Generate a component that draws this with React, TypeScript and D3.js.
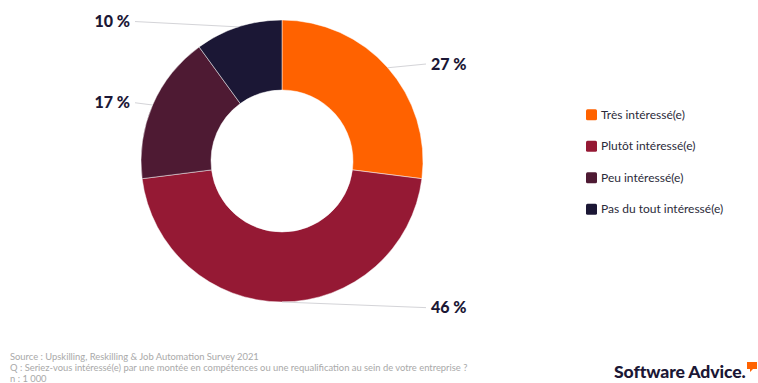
import React from "react";
import * as d3 from "d3";

const categories = ["Très intéressé(e)", "Plutôt intéressé(e)", "Peu intéressé(e)", "Pas du tout intéressé(e)"];
const values = [27, 46, 17, 10];
const colors = ["#FF6200", "#951934", "#4E1A33", "#1B1735"];
const sourceLines = [
  "Source : Upskilling, Reskilling & Job Automation Survey 2021",
  "Q : Seriez-vous intéressé(e) par une montée en compétences ou une requalification au sein de votre entreprise ?",
  "n : 1 000",
];

const W = 758;
const H = 383;
const cx = 282;
const cy = 161;
const outerR = 141;
const innerR = 71;

export default function App() {
  const pie = d3.pie<number>().sort(null).value((d) => d);
  const arcs = pie(values);
  const arcGen = d3.arc<d3.PieArcDatum<number>>().innerRadius(innerR).outerRadius(outerR);

  const legendY = d3.scaleBand<number>().domain(d3.range(categories.length)).range([99, 225]);

  return (
    <svg width={W} height={H} style={{ position: "absolute", left: 0, top: 0, background: "#fff" }}>
      <g transform={`translate(${cx},${cy})`}>
        {arcs.map((a, i) => (
          <path key={i} d={arcGen(a) || ""} fill={colors[i]} stroke="#ffffff" strokeOpacity={0.6} strokeWidth={0.8} />
        ))}
        {arcs.map((a, i) => {
          const mid = (a.startAngle + a.endAngle) / 2;
          const px = Math.sin(mid) * outerR;
          const py = -Math.cos(mid) * outerR;
          const right = px > -1;
          const ly = py * 1.04;
          const lx = right ? outerR + 3 : -outerR - 6;
          const tx = right ? lx + 5 : lx - 5;
          return (
            <g key={"l" + i}>
              <line x1={px} y1={py} x2={lx} y2={ly} stroke="#d4d4d8" strokeWidth={1} />
              <text
                x={tx}
                y={ly}
                dy="0.35em"
                textAnchor={right ? "start" : "end"}
                fontFamily="Lato, 'Noto Sans', sans-serif"
                fontWeight={900}
                fontSize={16}
                fill="#1B1735"
              >
                {values[i]} %
              </text>
            </g>
          );
        })}
      </g>
      {categories.map((c, i) => {
        const y = (legendY(i) || 0) + legendY.bandwidth() / 2;
        return (
          <g key={"lg" + i}>
            <rect x={586} y={y - 5.5} width={11} height={11} rx={1.5} fill={colors[i]} />
            <text x={601} y={y} dy="0.35em" fontFamily="Lato, 'Noto Sans', sans-serif" fontSize={12} fill="#2b2a3a">
              {c}
            </text>
          </g>
        );
      })}
      {sourceLines.map((s, i) => (
        <text key={"s" + i} x={10} y={360 + i * 11} fontFamily="Lato, 'Noto Sans', sans-serif" fontSize={9.4} fill="#a9a9a9">
          {s}
        </text>
      ))}
      <text x={614} y={378} fontFamily="Lato, 'Noto Sans', sans-serif" fontWeight={900} fontSize={17.6} fill="#1B1735" letterSpacing={-0.1}>
        Software Advice.
      </text>
      <path d="M747,362 L757,362 L757,369 L753,369 L750,372 L750,369 L747,369 Z" fill="#FF6200" />
    </svg>
  );
}
